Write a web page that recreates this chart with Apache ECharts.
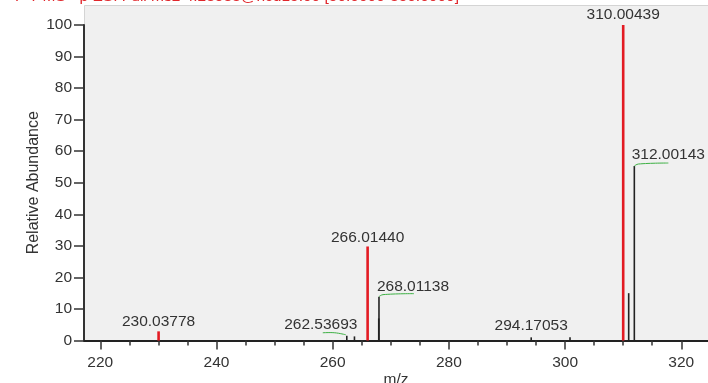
<!DOCTYPE html>
<html>
<head>
<meta charset="utf-8">
<script src="https://cdn.jsdelivr.net/npm/echarts@6/dist/echarts.min.js"></script>
<style>
html,body{margin:0;padding:0;background:#fff;}
#chart{width:708px;height:383px;}
</style>
</head>
<body>
<div id="chart"></div>
<script>
// ---- data ----
const titleText = 'F T MS - p ESI Full ms2 4.23533@hcd15.00 [50.0000-350.0000]';
const mzValues = [230.03778, 262.43, 263.75, 266.01440, 267.93, 267.97, 294.17053, 300.85, 310.00439, 310.95, 311.92];
const abundances = [2.9, 1.5, 1.3, 29.8, 7, 13.9, 1, 1, 100, 15, 55.3];
const peakIsRed = [1, 0, 0, 1, 0, 0, 0, 0, 1, 0, 0];
const labelledMz = [230.03778, 262.43, 266.01440, 267.97, 294.17053, 310.00439, 311.92];
const labelledAbundance = [2.9, 1.5, 29.8, 13.9, 1, 100, 55.3];
const labelTexts = ['230.03778', '262.53693', '266.01440', '268.01138', '294.17053', '310.00439', '312.00143'];
const xTickLabels = [220, 240, 260, 280, 300, 320];
const xMinorTicks = [225,230,235,245,250,255,265,270,275,285,290,295,305,310,315];
const yTickLabels = [0, 10, 20, 30, 40, 50, 60, 70, 80, 90, 100];

// ---- label styles (offsets in px) ----
const labelStyle = [
  {dx: 0, dy: -10, green: null},
  {dx: -26, dy: -11, green: [[-24,-3],[-12,-3],[-1,-1]]},
  {dx: 0, dy: -9, green: null},
  {dx: 34, dy: -10, green: [[0,0],[4,-2],[35,-3]]},
  {dx: 0, dy: -12, green: null},
  {dx: 0, dy: -10, green: null},
  {dx: 34, dy: -11, green: [[0,0],[4,-2],[34,-3]]}
];

const FONT = '"Liberation Sans", Arial, sans-serif';
const chart = echarts.init(document.getElementById('chart'));

const peakData = mzValues.map((m, i) => [m, abundances[i], peakIsRed[i]]);
const labelData = labelledMz.map((m, i) => [m, labelledAbundance[i], i]);

const option = {
  backgroundColor: '#ffffff',
  animation: false,
  graphic: [
    {type: 'rect', left: 84, top: 5, shape: {width: 640, height: 336},
     style: {fill: '#f0f0f0', stroke: '#d4d4d4', lineWidth: 1}, z: -10},
    {type: 'text', left: 15, top: -11,
     style: {text: titleText, fill: '#e0262b', font: '15.5px ' + FONT}}
  ],
  grid: {left: 84, right: 0, top: 25, bottom: 42.5, containLabel: false, outerBoundsMode: 'none'},
  xAxis: [
    {
      type: 'value', min: 217.2, max: 324.6,
      name: 'm/z', nameLocation: 'middle', nameGap: 31, nameMoveOverlap: false,
      nameTextStyle: {fontFamily: FONT, fontSize: 15.5, color: '#333'},
      axisLine: {show: true, lineStyle: {color: '#222', width: 2}},
      axisTick: {show: true, customValues: xTickLabels, length: 9, lineStyle: {color: '#333', width: 1.5}},
      axisLabel: {customValues: xTickLabels, margin: 14, fontFamily: FONT, fontSize: 15.5, color: '#333'},
      splitLine: {show: false}
    },
    {
      type: 'value', min: 217.2, max: 324.6, position: 'bottom',
      axisLine: {show: false},
      axisTick: {show: true, customValues: xMinorTicks, length: 5, lineStyle: {color: '#333', width: 1.5}},
      axisLabel: {show: false},
      splitLine: {show: false}
    }
  ],
  yAxis: {
    type: 'value', min: 0, max: 100, interval: 10,
    name: 'Relative Abundance', nameLocation: 'middle', nameGap: 42, nameRotate: 90, nameMoveOverlap: false,
    nameTextStyle: {fontFamily: FONT, fontSize: 16, color: '#333'},
    axisLine: {show: true, lineStyle: {color: '#333', width: 2}},
    axisTick: {show: true, length: 10, lineStyle: {color: '#333', width: 1.5}},
    axisLabel: {margin: 12, fontFamily: FONT, fontSize: 15.5, color: '#333'},
    splitLine: {show: false}
  },
  series: [
    {
      type: 'custom', xAxisIndex: 0, data: peakData, z: 5,
      renderItem: function (params, api) {
        const x = api.value(0), y = api.value(1), red = api.value(2);
        const p0 = api.coord([x, 0]);
        const p1 = api.coord([x, y]);
        return {type: 'line', shape: {x1: p0[0], y1: p0[1], x2: p1[0], y2: p1[1]},
          style: {stroke: red ? '#e31b23' : '#222', lineWidth: red ? 2.6 : 1.6}};
      }
    },
    {
      type: 'custom', xAxisIndex: 0, data: labelData, z: 6,
      renderItem: function (params, api) {
        const x = api.value(0), y = api.value(1), idx = api.value(2);
        const p = api.coord([x, y]);
        const st = labelStyle[idx];
        const children = [{
          type: 'text', x: p[0] + st.dx, y: p[1] + st.dy,
          style: {text: labelTexts[idx], fill: '#333', font: '15.5px ' + FONT, align: 'center', verticalAlign: 'middle'}
        }];
        if (st.green) {
          children.push({type: 'polyline',
            shape: {points: st.green.map(q => [p[0] + q[0], p[1] + q[1]]), smooth: 0.4},
            style: {stroke: '#3cb043', lineWidth: 1, fill: null}});
        }
        return {type: 'group', children: children};
      }
    }
  ]
};
chart.setOption(option);
</script>
</body>
</html>
